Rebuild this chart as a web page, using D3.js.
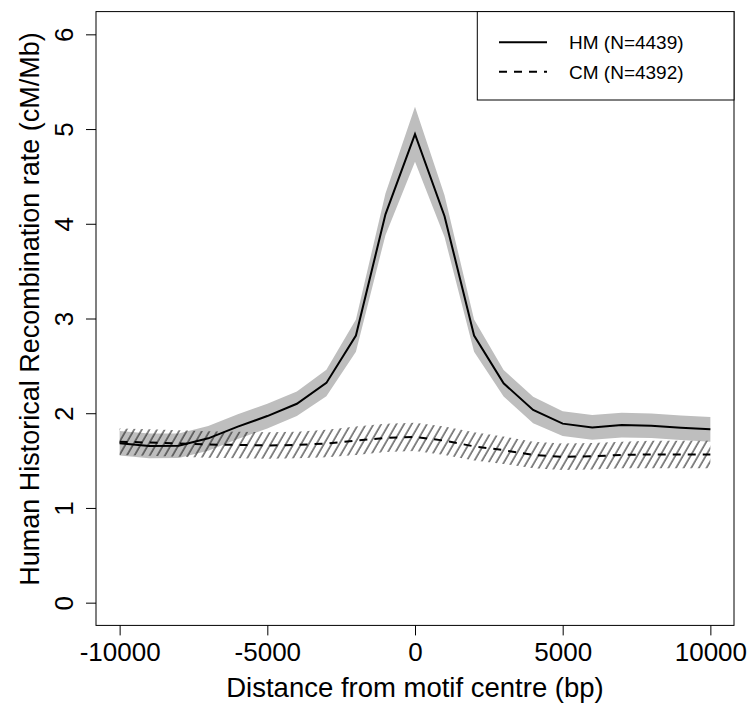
<!DOCTYPE html>
<html>
<head>
<meta charset="utf-8">
<script src="https://cdn.jsdelivr.net/npm/d3@7"></script>
<style>
  html, body { margin: 0; padding: 0; background: #fff; }
  svg { display: block; }
  text { font-family: "Liberation Sans", Arial, Helvetica, sans-serif; fill: #000; }
</style>
</head>
<body>
<svg id="chart" width="752" height="705"></svg>
<script>
// ---- Data ----
const positions = [-10000, -9000, -8000, -7000, -6000, -5000, -4000, -3000, -2000, -1000, 0,
                   1000, 2000, 3000, 4000, 5000, 6000, 7000, 8000, 9000, 10000];
const hmRate = [1.683, 1.655, 1.657, 1.735, 1.858, 1.97, 2.10, 2.32, 2.82, 4.10, 4.945,
                4.08, 2.82, 2.316, 2.034, 1.89, 1.85, 1.875, 1.868, 1.846, 1.83];
const hmSE   = [0.13, 0.13, 0.13, 0.13, 0.13, 0.13, 0.13, 0.14, 0.17, 0.22, 0.29,
                0.22, 0.17, 0.14, 0.14, 0.13, 0.13, 0.13, 0.13, 0.13, 0.13];
const cmRate = [1.70, 1.69, 1.68, 1.67, 1.665, 1.66, 1.665, 1.68, 1.71, 1.74, 1.75,
                1.71, 1.65, 1.61, 1.56, 1.54, 1.545, 1.56, 1.565, 1.565, 1.565];
const cmSE   = [0.14, 0.14, 0.14, 0.14, 0.14, 0.14, 0.14, 0.145, 0.15, 0.15, 0.15,
                0.15, 0.15, 0.145, 0.14, 0.14, 0.14, 0.14, 0.145, 0.145, 0.145];
const xTicks = [-10000, -5000, 0, 5000, 10000];
const yTicks = [0, 1, 2, 3, 4, 5, 6];
const legendLabels = ["HM (N=4439)", "CM (N=4392)"];
const xTitle = "Distance from motif centre (bp)";
const yTitle = "Human Historical Recombination rate (cM/Mb)";

// ---- Layout ----
const svg = d3.select("#chart");
const x = d3.scaleLinear().domain([-10800, 10800]).range([96, 734]);
const y = d3.scaleLinear().domain([-0.24, 6.24]).range([625.4, 11.6]);

const hm = positions.map((p, i) => ({p, v: hmRate[i], se: hmSE[i]}));
const cm = positions.map((p, i) => ({p, v: cmRate[i], se: cmSE[i]}));

// hatch pattern
const defs = svg.append("defs");
const pat = defs.append("pattern")
  .attr("id", "hatch")
  .attr("patternUnits", "userSpaceOnUse")
  .attr("width", 6.6).attr("height", 10)
  .attr("patternTransform", "rotate(30)");
pat.append("line")
  .attr("x1", 1).attr("y1", -1).attr("x2", 1).attr("y2", 11)
  .attr("stroke", "#111").attr("stroke-width", 1);

const area = d3.area()
  .x(d => x(d.p))
  .y0(d => y(d.v - d.se))
  .y1(d => y(d.v + d.se));

// HM band (grey)
svg.append("path").datum(hm)
  .attr("d", area)
  .attr("fill", "#bebebe")
  .attr("stroke", "none");

// CM band (hatched)
svg.append("path").datum(cm)
  .attr("d", area)
  .attr("fill", "url(#hatch)")
  .attr("stroke", "none");

const line = d3.line().x(d => x(d.p)).y(d => y(d.v));

svg.append("path").datum(hm)
  .attr("d", line)
  .attr("fill", "none")
  .attr("stroke", "#000")
  .attr("stroke-width", 2);

svg.append("path").datum(cm)
  .attr("d", line)
  .attr("fill", "none")
  .attr("stroke", "#000")
  .attr("stroke-width", 2)
  .attr("stroke-dasharray", "8,7");

// plot box
svg.append("rect")
  .attr("x", x.range()[0]).attr("y", y.range()[1])
  .attr("width", x.range()[1] - x.range()[0])
  .attr("height", y.range()[0] - y.range()[1])
  .attr("fill", "none").attr("stroke", "#000").attr("stroke-width", 1);

// x axis
const gx = svg.append("g")
  .attr("transform", `translate(0,${y.range()[0]})`)
  .call(d3.axisBottom(x).tickValues(xTicks).tickSize(10).tickPadding(7)
        .tickFormat(d => String(d)));
gx.select(".domain").remove();
gx.selectAll("line").attr("stroke", "#000");
gx.selectAll("text").attr("font-size", 26).attr("fill", "#000");

// y axis
const gy = svg.append("g")
  .attr("transform", `translate(${x.range()[0]},0)`)
  .call(d3.axisLeft(y).tickValues(yTicks).tickSize(10).tickFormat(d => String(d)));
gy.select(".domain").remove();
gy.selectAll("line").attr("stroke", "#000");
gy.selectAll("text")
  .attr("font-size", 26).attr("fill", "#000")
  .attr("x", 0).attr("dy", 0)
  .attr("text-anchor", "middle")
  .attr("transform", "translate(-23,0) rotate(-90)");
svg.selectAll("g").attr("font-family", null);

// titles
svg.append("text")
  .attr("x", (x.range()[0] + x.range()[1]) / 2)
  .attr("y", 697)
  .attr("text-anchor", "middle")
  .attr("font-size", 27.5)
  .text(xTitle);

svg.append("text")
  .attr("transform", `translate(39,309) rotate(-90)`)
  .attr("text-anchor", "middle")
  .attr("font-size", 27)
  .text(yTitle);

// legend
const lg = svg.append("g");
lg.append("rect")
  .attr("x", 477.3).attr("y", y.range()[1])
  .attr("width", x.range()[1] - 477.3).attr("height", 100 - y.range()[1])
  .attr("fill", "#fff").attr("stroke", "#000").attr("stroke-width", 1);
const legY = [42.3, 71.7];
const legDash = [null, "8,7"];
legendLabels.forEach((lab, i) => {
  lg.append("line")
    .attr("x1", 499).attr("x2", 547)
    .attr("y1", legY[i]).attr("y2", legY[i])
    .attr("stroke", "#000").attr("stroke-width", 2)
    .attr("stroke-dasharray", legDash[i]);
  lg.append("text")
    .attr("x", 569).attr("y", legY[i])
    .attr("dy", "0.36em")
    .attr("font-size", 19)
    .text(lab);
});
</script>
</body>
</html>
